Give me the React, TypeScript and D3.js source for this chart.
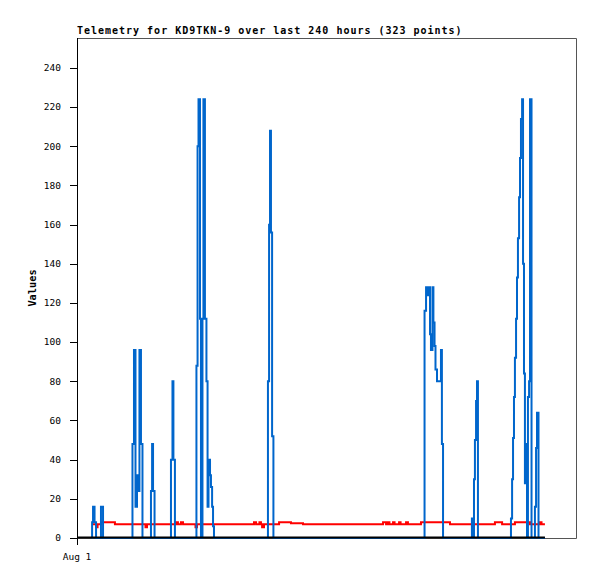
import React from "react";
import * as d3 from "d3";

// Hours since Aug 1 00:00 and values
const blueHours = [7.7, 8.0, 8.5, 9.3, 10.1, 12.7, 13.8,
  29.4, 30.2, 31.0, 31.8, 32.3, 33.1, 33.9, 34.7,
  39.2, 39.8, 40.3, 41.1,
  49.8, 50.6, 51.1, 51.9,
  63.3, 63.9, 64.4, 65.2, 65.7, 66.5, 67.0, 67.8, 68.6, 69.2, 69.7, 70.5, 71.0, 71.6, 72.1, 72.6,
  101.2, 101.8, 102.3, 102.8, 103.4, 104.1,
  184.2, 185.0, 185.8, 186.3, 187.1, 187.6, 188.4, 188.9, 189.5, 190.0, 190.8, 192.9, 193.4, 194.0,
  209.3, 210.1, 210.4, 210.9, 211.5, 212.0, 212.5,
  230.0, 230.6, 231.1, 231.6, 232.1, 232.7, 233.2, 233.7, 234.3, 234.8, 235.3, 235.9, 236.4, 236.9, 237.4, 238.0, 238.5,
  239.0, 239.6, 240.1, 240.9, 242.7, 243.3, 243.8, 244.6, 248.0];
const blueValues = [0, 8, 16, 8, 0, 16, 0,
  48, 96, 16, 32, 24, 96, 48, 0,
  24, 48, 24, 0,
  40, 80, 40, 0,
  88, 200, 224, 112, 0, 112, 224, 112, 80, 16, 40, 32, 26, 16, 6, 0,
  80, 160, 208, 156, 52, 0,
  116, 128, 124, 128, 104, 96, 128, 110, 98, 86, 80, 96, 48, 0,
  10, 0, 30, 50, 70, 80, 0,
  10, 30, 51, 72, 92, 112, 133, 153, 174, 194, 214, 224, 140, 84, 28, 48, 0,
  72, 80, 224, 0, 16, 46, 64, 0, 0];

const redHours = [8.0, 10.1, 10.9, 12.7, 20.1, 36.3, 37.1, 52.5, 53.5, 55.1, 56.2, 62.8, 63.6,
  93.8, 94.9, 96.7, 97.5, 98.1, 99.1, 107.1, 113.4, 119.8,
  162.2, 163.8, 164.8, 165.6, 167.5, 168.3, 170.7, 171.5, 174.4, 175.4,
  182.3, 197.7, 221.5, 225.3, 232.1, 240.1, 245.4, 246.2, 248.0];
const redValues = [7, 5.5, 7, 8, 7, 5.5, 7, 8, 7, 8, 7, 5.5, 7,
  8, 7, 8, 7, 5.5, 7, 8, 7.5, 7,
  8, 7, 8, 7, 8, 7, 8, 7, 8, 7,
  8, 7, 8, 7, 8, 7, 8, 7, 7];

const blackHours = [0, 248.0];
const blackValues = [0, 0];

const yTicks = [0, 20, 40, 60, 80, 100, 120, 140, 160, 180, 200, 220, 240];
const xTickHours = [0];
const xTickLabels = ["Aug 1"];

const title = "Telemetry for KD9TKN-9 over last 240 hours (323 points)";
const yLabel = "Values";

const W = 597, H = 579;
const M = { left: 77, right: 20, top: 38, bottom: 41 };

export default function App() {
  const x = d3.scaleLinear().domain([0, 265]).range([M.left, W - M.right]);
  const y = d3.scaleLinear().domain([0, 255.3]).range([H - M.bottom, M.top]);

  const mk = (hs: number[], vs: number[], curve: d3.CurveFactory) =>
    d3.line<number>().x((_, i) => x(hs[i])).y((_, i) => y(vs[i])).curve(curve)(hs.map((_, i) => i)) || "";

  const bluePath = mk(blueHours, blueValues, d3.curveStepAfter);
  const redPath = mk(redHours, redValues, d3.curveStepAfter);
  const blackPath = mk(blackHours, blackValues, d3.curveLinear);

  const x0 = M.left, x1 = W - M.right, yT = M.top, yB = H - M.bottom;

  return (
    <svg width={W} height={H} style={{ position: "absolute", left: 0, top: 0, background: "#fff" }}>
      <rect x={0} y={0} width={W} height={H} fill="#fff" />
      {/* frame */}
      <path d={`M${x0},${yT + 0.5}H${x1 - 0.5}V${yB + 0.5}H${x0}`} fill="none" stroke="#555" strokeWidth={1} />
      <path d={redPath} fill="none" stroke="#ff0000" strokeWidth={2} />
      <path d={bluePath} fill="none" stroke="#0066cc" strokeWidth={2} />
      <path d={blackPath} fill="none" stroke="#000" strokeWidth={2} transform="translate(0,-0.5)" />
      {/* left axis */}
      <line x1={x0 + 0.5} x2={x0 + 0.5} y1={yT} y2={yB + 7} stroke="#000" strokeWidth={1} />
      {yTicks.map((t) => (
        <g key={t}>
          <line x1={x0 - 7} x2={x0} y1={Math.round(y(t)) + 0.5} y2={Math.round(y(t)) + 0.5} stroke="#000" strokeWidth={1} />
          <text x={x0 - 16} y={y(t)} dy="0.35em" textAnchor="end" fontFamily="DejaVu Sans Mono" fontSize={9.5} fill="#000">
            {t}
          </text>
        </g>
      ))}
      {xTickHours.map((h, i) => (
        <text key={h} x={x(h)} y={yB + 22} textAnchor="middle" fontFamily="DejaVu Sans Mono" fontSize={9.5} fill="#000">
          {xTickLabels[i]}
        </text>
      ))}
      <text x={x0} y={34} fontFamily="DejaVu Sans Mono" fontWeight="bold" fontSize={10} letterSpacing={0.99} fill="#000">
        {title}
      </text>
      <text transform={`translate(36,${(yT + yB) / 2}) rotate(-90)`} textAnchor="middle" fontFamily="DejaVu Sans Mono" fontWeight="bold" fontSize={10.3} fill="#000">
        {yLabel}
      </text>
    </svg>
  );
}
